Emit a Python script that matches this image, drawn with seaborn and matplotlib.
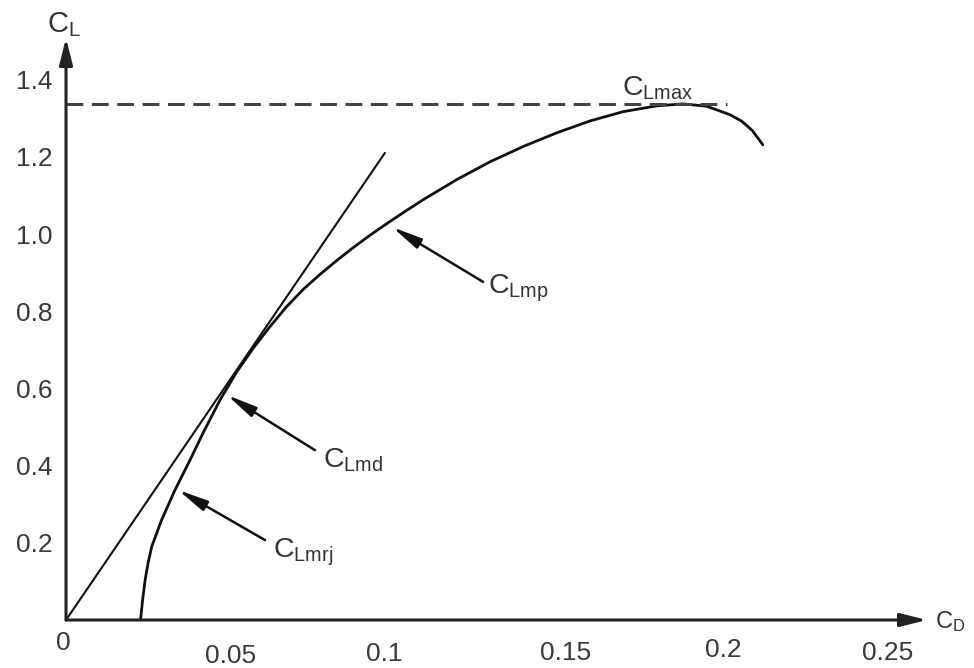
import matplotlib
matplotlib.use("Agg")
import matplotlib.pyplot as plt
import matplotlib.transforms as mtransforms
import seaborn as sns

# drag polar
cd_polar = [0.0227, 0.0233, 0.0241, 0.0250, 0.0261, 0.0291, 0.0332, 0.0378, 0.0417,
            0.0469, 0.0520, 0.0570, 0.0621, 0.0672, 0.0723, 0.0773, 0.0824, 0.0875,
            0.0926, 0.0977, 0.1037, 0.1088, 0.1190, 0.1291, 0.1393, 0.1494, 0.1596,
            0.1697, 0.1799, 0.1880, 0.1951, 0.2022, 0.2058, 0.2090, 0.2122]
cl_polar = [0.000, 0.050, 0.104, 0.148, 0.190, 0.259, 0.337, 0.415, 0.484,
            0.570, 0.643, 0.704, 0.760, 0.812, 0.857, 0.895, 0.931, 0.965,
            0.997, 1.027, 1.061, 1.089, 1.141, 1.187, 1.227, 1.262, 1.293,
            1.317, 1.332, 1.337, 1.331, 1.309, 1.292, 1.268, 1.231]

# tangent from the origin
tangent_cd = [0.0, 0.0971]
tangent_cl = [0.0, 1.210]

cl_max = 1.338
cl_max_cd = [0.0, 0.2013]

x_ticks = [0, 0.05, 0.1, 0.15, 0.2, 0.25]
x_labels = ["0", "0.05", "0.1", "0.15", "0.2", "0.25"]
y_ticks = [0.2, 0.4, 0.6, 0.8, 1.0, 1.2, 1.4]
y_labels = ["0.2", "0.4", "0.6", "0.8", "1.0", "1.2", "1.4"]

# label text, arrow tip, arrow tail, text anchor
callouts = [
    (r"C$_{\mathrm{Lmp}}$", (0.0993, 1.018), (0.1270, 0.876), (0.1285, 0.847)),
    (r"C$_{\mathrm{Lmd}}$", (0.0490, 0.583), (0.0758, 0.440), (0.0783, 0.396)),
    (r"C$_{\mathrm{Lmrj}}$", (0.0341, 0.337), (0.0606, 0.207), (0.0630, 0.163)),
]

sns.set_style("white")
plt.rcParams["font.family"] = ["Liberation Sans", "DejaVu Sans"]
plt.rcParams["mathtext.fontset"] = "custom"
plt.rcParams["mathtext.rm"] = "Liberation Sans"
plt.rcParams["mathtext.it"] = "Liberation Sans"

fig = plt.figure(figsize=(9.74, 6.68), dpi=100)
ax = fig.add_axes([66 / 974, 48 / 668, 861 / 974, 582 / 668])

sns.lineplot(x=cd_polar, y=cl_polar, ax=ax, color="#111111", lw=2.0,
             sort=False, estimator=None)
sns.lineplot(x=tangent_cd, y=tangent_cl, ax=ax, color="#111111", lw=1.5,
             sort=False, estimator=None)
sns.lineplot(x=cl_max_cd, y=[cl_max, cl_max], ax=ax, color="#444444", lw=2.2,
             linestyle=(0, (5.5, 2.8)), sort=False, estimator=None)

ax.set_xlim(0, 861 / 3284)
ax.set_ylim(0, 582 / 386)
for s in ax.spines.values():
    s.set_visible(False)

# axes drawn as arrows
axis_arrow = dict(arrowstyle="-|>,head_length=1.6,head_width=0.4", mutation_scale=10,
                  color="#222222", lw=2.2, shrinkA=0, shrinkB=0)
ax.annotate("", xy=(1, 0), xytext=(0, 0), xycoords="axes fraction",
            arrowprops=axis_arrow, annotation_clip=False)
ax.annotate("", xy=(0, 1), xytext=(0, 0), xycoords="axes fraction",
            arrowprops=axis_arrow, annotation_clip=False)

ax.set_xticks(x_ticks)
ax.set_xticklabels(x_labels)
ax.set_yticks(y_ticks)
ax.set_yticklabels(y_labels)
ax.tick_params(axis="x", direction="out", length=7, width=1.6, color="#333333",
               labelsize=19, labelcolor="#3a3a3a")
ax.tick_params(axis="y", direction="out", length=6, width=1.6, color="#333333",
               pad=3.5, labelsize=19, labelcolor="#3a3a3a")
ax.set_xlabel("")
ax.set_ylabel("")

# staggered x labels like the hand drawn original
x_pads = [1.2, 10.5, 9.1, 8.4, 6.2, 8.4]
x_shift = [-3, 0, -10, 7, 1, 1]
for tick, pad, dx in zip(ax.xaxis.get_major_ticks(), x_pads, x_shift):
    tick.set_pad(pad)
    lab = tick.label1
    lab.set_transform(lab.get_transform() +
                      mtransforms.ScaledTranslation(dx / 100, 0, fig.dpi_scale_trans))
ax.xaxis.get_major_ticks()[0].tick1line.set_visible(False)

fig.text(47 / 974, 1 - 32 / 668, r"C$_{\mathrm{L}}$", fontsize=21, color="#333333",
         ha="left", va="baseline")
fig.text(935 / 974, 1 - 628 / 668, r"C$_{\mathrm{D}}$", fontsize=17, color="#333333",
         ha="left", va="baseline")

ann_arrow = dict(arrowstyle="-|>,head_length=1.8,head_width=0.33", mutation_scale=10,
                 color="#111111", lw=1.8, shrinkA=0, shrinkB=0)
for label, tip, tail, pos in callouts:
    ax.annotate("", xy=tip, xytext=tail, arrowprops=ann_arrow)
    ax.text(pos[0], pos[1], label, fontsize=20.5, color="#333333", ha="left", va="baseline")

ax.text(0.1693, 1.360, r"C$_{\mathrm{Lmax}}$", fontsize=20.5, color="#333333",
        ha="left", va="baseline")

plt.savefig("out.png", dpi=100)
